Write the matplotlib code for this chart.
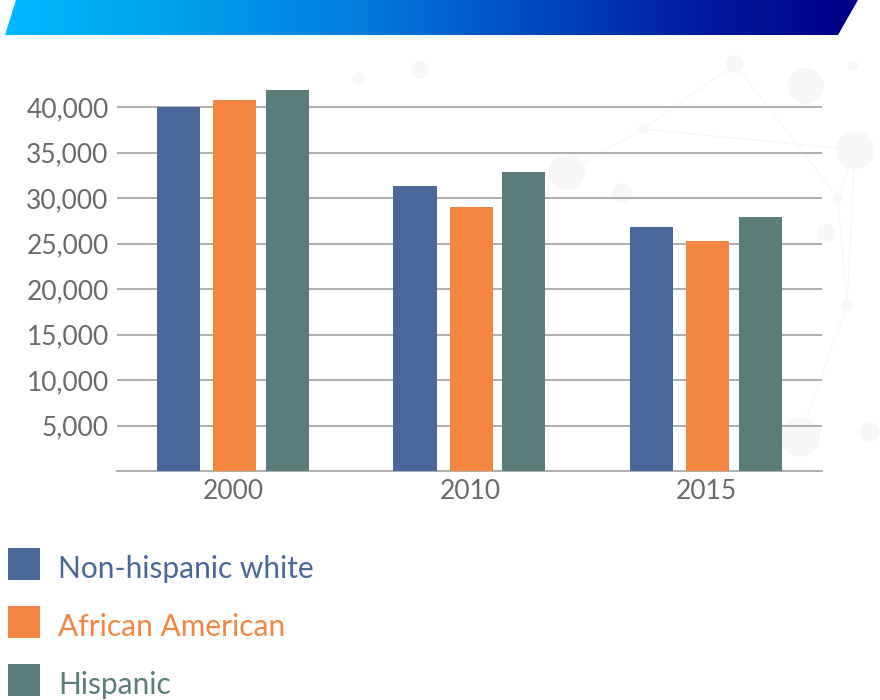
import matplotlib
matplotlib.use("Agg")
import matplotlib.pyplot as plt
import numpy as np
from matplotlib.patches import Rectangle, Polygon, Circle
from matplotlib.colors import LinearSegmentedColormap

# data
years = ["2000", "2010", "2015"]
groups = ["Non-hispanic white", "African American", "Hispanic"]
non_hispanic_white = [40000, 31300, 26800]
african_american = [40800, 29000, 25300]
hispanic = [41900, 32900, 27900]
colors = ["#4a679c", "#f58641", "#5b7d79"]
yticks = [5000, 10000, 15000, 20000, 25000, 30000, 35000, 40000]

plt.rcParams['font.family'] = ['Lato', 'DejaVu Sans']

W, H = 880, 700
fig = plt.figure(figsize=(W / 100, H / 100), dpi=100)
fig.patch.set_facecolor("white")

def fx(px):
    return px / W

def fy(py):
    return 1 - py / H

# faint network decoration in the background
deco = fig.add_axes([0, 0, 1, 1], zorder=-5)
deco.set_xlim(0, W)
deco.set_ylim(H, 0)
deco.axis("off")
nodes = [(735, 64), (643, 129), (855, 150), (838, 198), (847, 305), (806, 86), (853, 66),
         (567, 172), (622, 193), (826, 233), (358, 78), (420, 70), (800, 437), (870, 432)]
sizes = [9, 5, 19, 5, 6, 18, 5, 18, 10, 9, 6, 9, 20, 10]
links = [(0, 1), (1, 2), (2, 3), (0, 3), (3, 4), (2, 4), (1, 7), (4, 12)]
for a, b in links:
    deco.plot([nodes[a][0], nodes[b][0]], [nodes[a][1], nodes[b][1]], color="#f6f6f6", lw=0.8)
for (cx, cy), r in zip(nodes, sizes):
    deco.add_patch(Circle((cx, cy), r, color="#f7f7f7", lw=0))

# banner at the top
grad = fig.add_axes([0, fy(35), 1, 35 / H], zorder=-1)
grad.set_xlim(0, W)
grad.set_ylim(35, 0)
grad.axis("off")
g = np.linspace(0, 1, 512).reshape(1, -1)
cmap = LinearSegmentedColormap.from_list("ban", ["#00b8ff", "#00a0ee", "#0080dd", "#0050c0", "#001e9e", "#000086"])
im = grad.imshow(g, cmap=cmap, aspect="auto", extent=[5, 858, 35, 0])
poly = Polygon([(16, 0), (858, 0), (838, 35), (5, 35)], closed=True, transform=grad.transData,
               facecolor="none", edgecolor="none")
grad.add_patch(poly)
im.set_clip_path(poly)

# main chart
ax = fig.add_axes([fx(117), fy(471), fx(822) - fx(117), (471 - 80) / H])
ax.set_facecolor("none")
x = np.arange(len(years))
w = 0.182
series = [non_hispanic_white, african_american, hispanic]
offsets = [-0.232, 0.006, 0.228]
for vals, off, c in zip(series, offsets, colors):
    ax.bar(x + off, vals, width=w, color=c, zorder=3)

ax.set_xlim(-0.492, 2.489)
ax.set_ylim(0, 43000)
ax.set_yticks(yticks)
ax.set_yticklabels([f"{v:,}" for v in yticks])
ax.set_xticks(x)
ax.set_xticklabels(years)
ax.yaxis.grid(True, color="#a9a9a9", lw=1.3, zorder=0)
for s in ["top", "right", "left"]:
    ax.spines[s].set_visible(False)
ax.spines["bottom"].set_color("#a9a9a9")
ax.spines["bottom"].set_linewidth(1.3)
ax.tick_params(axis="both", length=0, labelsize=19, labelcolor="#6a6a6a")
ax.tick_params(axis="y", pad=6)
ax.tick_params(axis="x", pad=6)

# legend
for i, (lab, c) in enumerate(zip(groups, colors)):
    top = 548 + i * 58
    fig.add_artist(Rectangle((fx(8), fy(top + 32)), 32 / W, 32 / H, transform=fig.transFigure, color=c, lw=0))
    fig.text(fx(58), fy(top + 30), lab, color=c, fontsize=21.5, va="baseline", ha="left")

fig.savefig("out.png", dpi=100)
